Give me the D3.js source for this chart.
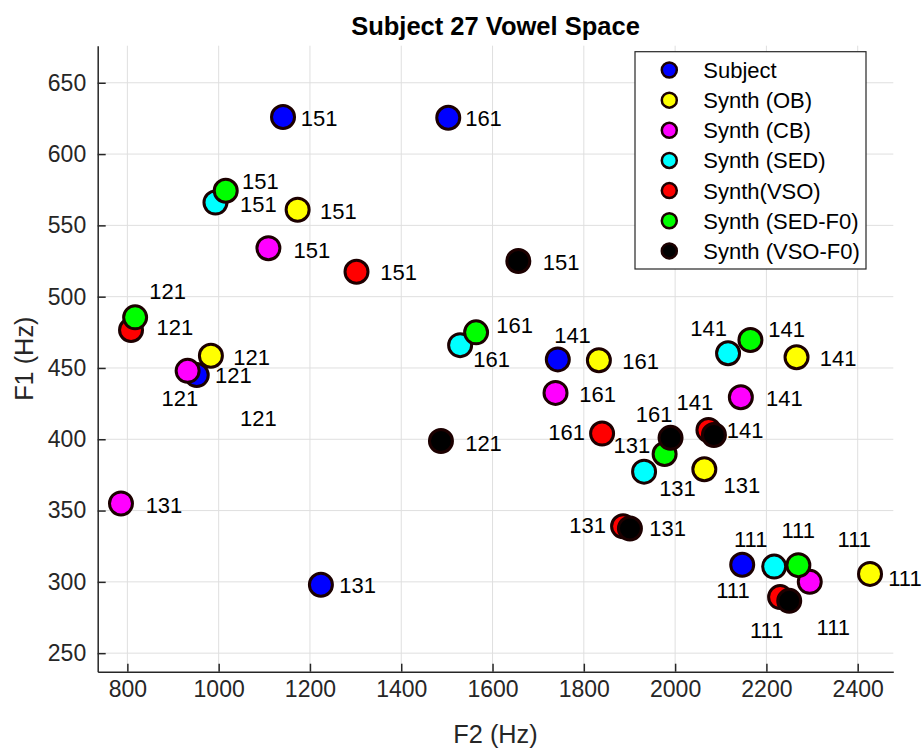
<!DOCTYPE html>
<html>
<head>
<meta charset="utf-8">
<script src="https://cdn.jsdelivr.net/npm/d3@7"></script>
<style>
  body { margin: 0; background: #fff; }
  svg { font-family: 'Liberation Sans', Arial, sans-serif; }
</style>
</head>
<body>
<svg id="chart" width="922" height="750"></svg>
<script>
// vowel labels, same order in every series
const vowels = ['111', '121', '131', '141', '151', '161']

const seriesNames = ['Subject', 'Synth (OB)', 'Synth (CB)', 'Synth (SED)', 'Synth(VSO)', 'Synth (SED-F0)', 'Synth (VSO-F0)']
const seriesColors = ['#0000ff', '#ffff00', '#ff00ff', '#00ffff', '#ff0000', '#00ff00', '#000000']

// F2 / F1 (Hz) per series
const subjectF2 = [2147, 952, 1224, 1743, 1141, 1503]
const subjectF1 = [312, 445, 298, 456, 626, 625.5]
const obF2 = [2427, 983, 2064, 2266, 1173, 1833]
const obF1 = [305.6, 458.6, 379, 457.5, 561, 455.4]
const cbF2 = [2295, 932, 786, 2144, 1109, 1738]
const cbF1 = [300, 448, 355, 429.5, 534, 432.5]
const sedF2 = [2217, null, 1932, 2116, 993, 1529]
const sedF1 = [310.7, null, 377.3, 460.3, 566, 466]
const vsoF2 = [2230, 808, 1886, 2073, 1302, 1840]
const vsoF1 = [289.3, 476.6, 339, 406.5, 517.5, 404]
const sedF0F2 = [2270, 817, 1977, 2165, 1015.5, 1564]
const sedF0F1 = [311.7, 485.5, 389.7, 469.6, 574.3, 475]
const vsoF0F2 = [2250, 1487, 1901, 2085, 1656.5, 1990]
const vsoF0F1 = [286.7, 398.8, 337.4, 403, 525, 401]

// where each text label was placed (data coords)
const subjectLabF2 = [2129, 992, 1264, 1735, 1180, 1540]
const subjectLabF1 = [330, 445, 298, 473, 625, 625]
const obLabF2 = [2467, 1032, 2106, 2317, 1222, 1884]
const obLabF1 = [303, 457.5, 368, 457, 560, 455]
const cbLabF2 = [2310, 875, 840, 2199, 1164, 1790]
const cbLabF1 = [268, 429, 354, 429, 533, 432]
const sedLabF2 = [2090, 1047, 1965, 2033, 1047, 1558]
const sedLabF1 = [294, 415, 366, 478, 565, 456]
const vsoLabF2 = [2164, 864, 1768, 2003, 1354, 1722]
const vsoLabF1 = [266, 479, 340, 426, 517, 405]
const sedF0LabF2 = [2233, 848, 1865, 2204, 1051, 1608]
const sedF0LabF1 = [336, 504, 396, 477, 581, 480]
const vsoF0LabF2 = [2356, 1540, 1943.5, 2113, 1710, 1914]
const vsoF0LabF1 = [330, 397, 338, 406.5, 524.5, 417.5]

const xTicks = [800, 1000, 1200, 1400, 1600, 1800, 2000, 2200, 2400]
const yTicks = [250, 300, 350, 400, 450, 500, 550, 600, 650]

const allF2 = [subjectF2, obF2, cbF2, sedF2, vsoF2, sedF0F2, vsoF0F2]
const allF1 = [subjectF1, obF1, cbF1, sedF1, vsoF1, sedF0F1, vsoF0F1]
const allLabF2 = [subjectLabF2, obLabF2, cbLabF2, sedLabF2, vsoLabF2, sedF0LabF2, vsoF0LabF2]
const allLabF1 = [subjectLabF1, obLabF1, cbLabF1, sedLabF1, vsoLabF1, sedF0LabF1, vsoF0LabF1]

const series = seriesNames.map((name, i) => ({
  name,
  color: seriesColors[i],
  points: vowels.map((v, j) => ({ vowel: v, f2: allF2[i][j], f1: allF1[i][j], lx: allLabF2[i][j], ly: allLabF1[i][j] }))
}))

const width = 922
const height = 750
const margin = { top: 45.7, right: 28.7, bottom: 78.3, left: 97.7 }
const axisColor = '#262626'
const edgeColor = '#1c0000'

const svg = d3.select('#chart')

const x = d3.scaleLinear()
  .domain([735, 2478])
  .range([margin.left, width - margin.right])

const y = d3.scaleLinear()
  .domain([237, 676])
  .range([height - margin.bottom, margin.top])

// grid
svg.append('g')
  .selectAll('line')
  .data(xTicks)
  .enter().append('line')
  .attr('x1', d => x(d)).attr('x2', d => x(d))
  .attr('y1', margin.top).attr('y2', height - margin.bottom)
  .attr('stroke', '#dfdfdf')
  .attr('stroke-width', 1)

svg.append('g')
  .selectAll('line')
  .data(yTicks)
  .enter().append('line')
  .attr('y1', d => y(d)).attr('y2', d => y(d))
  .attr('x1', margin.left).attr('x2', width - margin.right)
  .attr('stroke', '#dfdfdf')
  .attr('stroke-width', 1)

// axes (ticks point inward)
const xAxis = svg.append('g')
  .attr('transform', `translate(0,${height - margin.bottom})`)
  .call(d3.axisBottom(x).tickValues(xTicks).tickFormat(d3.format('d')).tickSizeInner(-8).tickSizeOuter(0).tickPadding(9))

const yAxis = svg.append('g')
  .attr('transform', `translate(${margin.left},0)`)
  .call(d3.axisLeft(y).tickValues(yTicks).tickFormat(d3.format('d')).tickSizeInner(-8).tickSizeOuter(0).tickPadding(11.5))

for (const ax of [xAxis, yAxis]) {
  ax.select('.domain').attr('stroke', axisColor).attr('stroke-width', 1.5)
  ax.selectAll('.tick line').attr('stroke', axisColor).attr('stroke-width', 1.5)
  ax.selectAll('.tick text')
    .attr('fill', axisColor)
    .style('font-size', '23px')
    .style('font-family', "'Liberation Sans', Arial, sans-serif")
}
xAxis.selectAll('.tick text').attr('dy', '0.71em')

// points, series in legend order
series.forEach(s => {
  svg.append('g')
    .selectAll('circle')
    .data(s.points.filter(p => p.f2 != null))
    .enter().append('circle')
    .attr('cx', d => x(d.f2))
    .attr('cy', d => y(d.f1))
    .attr('r', 11.5)
    .attr('fill', s.color)
    .attr('stroke', edgeColor)
    .attr('stroke-width', 3)
})

// vowel labels
series.forEach(s => {
  svg.append('g')
    .selectAll('text')
    .data(s.points)
    .enter().append('text')
    .attr('x', d => x(d.lx))
    .attr('y', d => y(d.ly))
    .attr('dy', '0.36em')
    .attr('font-size', 22)
    .attr('fill', '#000')
    .text(d => d.vowel)
})

// title and axis labels
svg.append('text')
  .attr('x', (margin.left + width - margin.right) / 2)
  .attr('y', 35)
  .attr('text-anchor', 'middle')
  .attr('font-size', 25.5)
  .attr('font-weight', 'bold')
  .attr('fill', '#000')
  .text('Subject 27 Vowel Space')

svg.append('text')
  .attr('x', (margin.left + width - margin.right) / 2)
  .attr('y', 743)
  .attr('text-anchor', 'middle')
  .attr('font-size', 25.3)
  .attr('fill', axisColor)
  .text('F2 (Hz)')

svg.append('text')
  .attr('transform', `translate(33,${(margin.top + height - margin.bottom) / 2}) rotate(-90)`)
  .attr('text-anchor', 'middle')
  .attr('font-size', 25.3)
  .attr('fill', axisColor)
  .text('F1 (Hz)')

// legend
const legend = svg.append('g').attr('transform', 'translate(635,51.7)')
legend.append('rect')
  .attr('width', 231).attr('height', 217.3)
  .attr('fill', '#fff')
  .attr('stroke', axisColor)
  .attr('stroke-width', 1.2)

const rows = legend.selectAll('g.row')
  .data(series)
  .enter().append('g')
  .attr('class', 'row')
  .attr('transform', (d, i) => `translate(0,${18.3 + i * 30.15})`)

rows.append('circle')
  .attr('cx', 34.3)
  .attr('r', 7.5)
  .attr('fill', d => d.color)
  .attr('stroke', edgeColor)
  .attr('stroke-width', 2.5)

rows.append('text')
  .attr('x', 68.3)
  .attr('dy', '0.36em')
  .attr('font-size', 22)
  .attr('fill', '#000')
  .text(d => d.name)
</script>
</body>
</html>
